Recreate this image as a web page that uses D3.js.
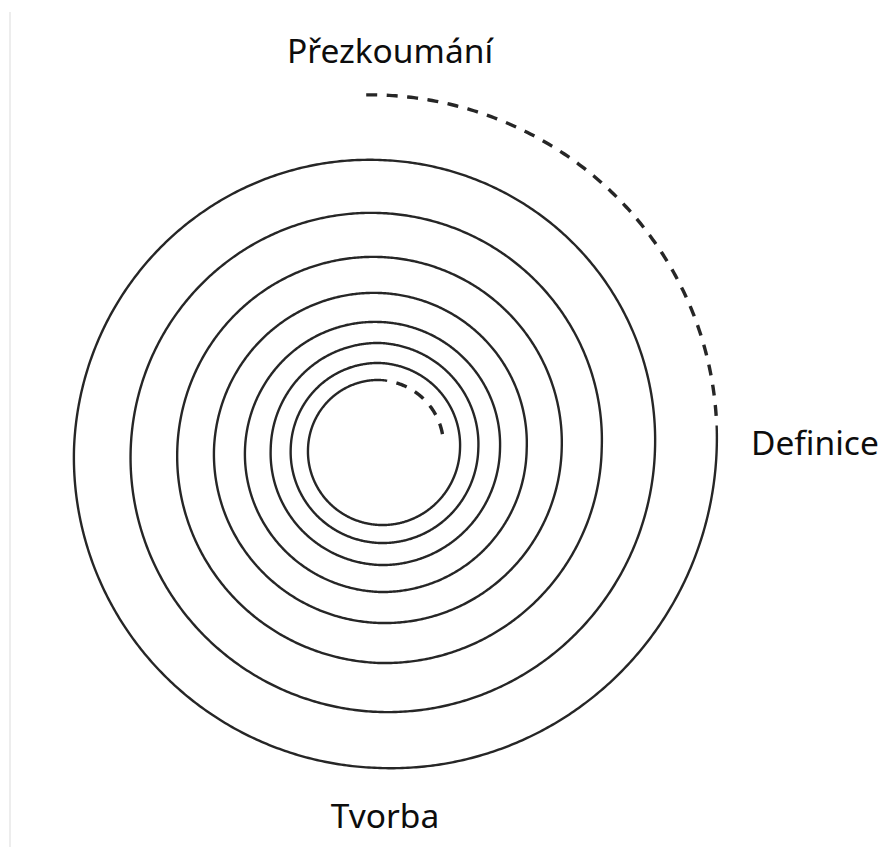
<!DOCTYPE html>
<html>
<head>
<meta charset="utf-8">
<script src="https://cdn.jsdelivr.net/npm/d3@7"></script>
<style>
  html, body { margin: 0; padding: 0; background: #fff; }
  svg { display: block; }
</style>
</head>
<body>
<script>
// Spiral: radius (px) at each angle (degrees, counter-clockwise from 12 o'clock)
const spiralAngles = [-80, 0, 90, 180, 270, 360, 450, 540, 630, 720, 810, 900, 990, 1080, 1170, 1260, 1350,
  1440, 1530, 1620, 1710, 1800, 1890, 1980, 2070, 2160, 2250, 2340, 2430, 2520, 2610, 2700, 2790, 2880];
const spiralRadii = [64, 69, 72, 76, 80, 86, 89.3, 94, 98.3, 106, 109.3, 116, 120, 127, 135, 143, 146.7,
  156, 166, 174, 181.7, 192, 202.7, 214, 221.7, 236, 249.3, 263, 275, 289, 306, 319, 336.7, 354];

// Segments of the spiral (start / end angle in degrees) and their line style
const segmentNames = ["inner", "main", "outer"];
const segmentFrom = [-6, -6, 2794];
const segmentTo = [-80, 2794, 2883];
const segmentStyle = ["dashed", "solid", "dashed"];

// Labels
const labelTexts = ["Přezkoumání", "Definice", "Tvorba"];

const W = 882, H = 847;
const cx = 380, cy = 449;

const svg = d3.select("body").append("svg")
  .attr("width", W).attr("height", H)
  .attr("viewBox", `0 0 ${W} ${H}`);

// faint left border line
svg.append("line")
  .attr("x1", 10).attr("x2", 10).attr("y1", 12).attr("y2", H)
  .attr("stroke", "#ededed").attr("stroke-width", 2);

const rScale = d3.scaleLinear().domain(spiralAngles).range(spiralRadii);
const toRad = d => d * Math.PI / 180;

const line = d3.lineRadial()
  .angle(a => -toRad(a))
  .radius(a => rScale(a))
  .curve(d3.curveLinear);

const g = svg.append("g").attr("transform", `translate(${cx},${cy})`);

segmentNames.forEach((name, i) => {
  const a0 = segmentFrom[i], a1 = segmentTo[i];
  const step = a1 > a0 ? 0.5 : -0.5;
  const pts = d3.range(a0, a1, step).concat([a1]);
  const p = g.append("path")
    .attr("class", "seg-" + name)
    .attr("d", line(pts))
    .attr("fill", "none")
    .attr("stroke", "#262626");
  if (segmentStyle[i] === "dashed") {
    p.attr("stroke-width", 3.4)
     .attr("stroke-dasharray", "11,9.5")
     .attr("stroke-dashoffset", 11);
  } else {
    p.attr("stroke-width", 2.4);
  }
});

const font = "'Noto Sans', 'Open Sans', sans-serif";
svg.append("text")
  .attr("x", 390).attr("y", 63)
  .attr("text-anchor", "middle")
  .attr("font-family", font).attr("font-size", 33.5)
  .attr("fill", "#0d0d0d")
  .text(labelTexts[0]);
svg.append("text")
  .attr("x", 751).attr("y", 455)
  .attr("text-anchor", "start")
  .attr("font-family", font).attr("font-size", 33.5)
  .attr("fill", "#0d0d0d")
  .text(labelTexts[1]);
svg.append("text")
  .attr("x", 385).attr("y", 828)
  .attr("text-anchor", "middle")
  .attr("font-family", font).attr("font-size", 33.5)
  .attr("fill", "#0d0d0d")
  .text(labelTexts[2]);
</script>
</body>
</html>
